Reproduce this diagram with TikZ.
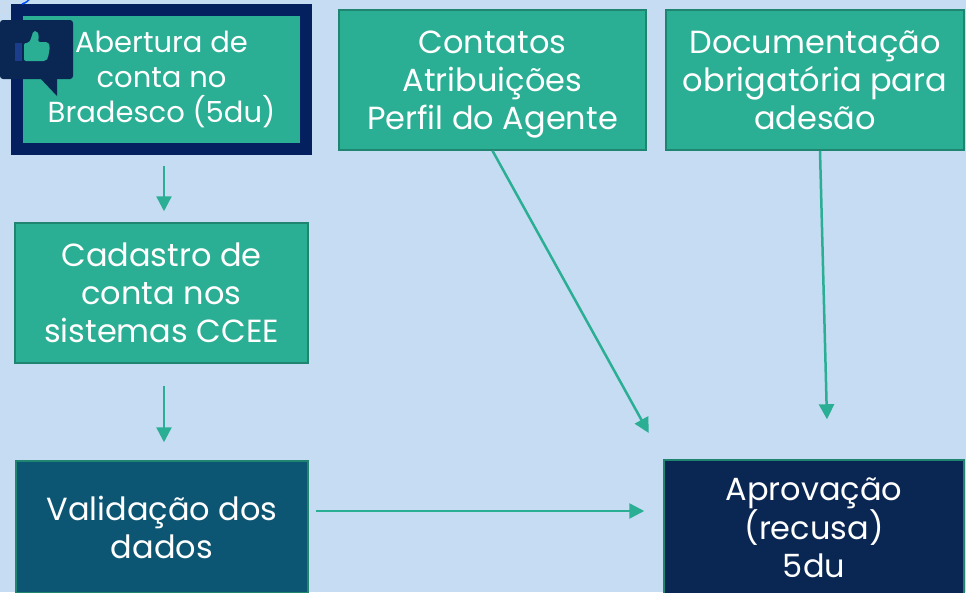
\documentclass[tikz,border=0pt]{standalone}
\usepackage{fontspec}
\setmainfont{Poppins}
\usetikzlibrary{arrows.meta}

\definecolor{fundo}{HTML}{C6DCF3}
\definecolor{verde}{HTML}{2AAE94}
\definecolor{verdeborda}{HTML}{1F8470}
\definecolor{marinho}{HTML}{05205E}
\definecolor{petroleo}{HTML}{0C5673}
\definecolor{escuro}{HTML}{0A2753}
\definecolor{punho}{HTML}{1B3D8C}

\tikzset{
  caixa/.style={rectangle, fill=verde, draw=verdeborda, line width=1.5pt,
    text=white, align=center, font=\fontsize{32}{38}\selectfont},
  seta/.style={draw=verde, line width=2.5pt, -{Triangle[length=15pt,width=15pt]}}
}

\begin{document}
\begin{tikzpicture}[x=1pt,y=-1pt]
    % Fundo
    \fill[fundo] (0,0) rectangle (966,592);
    \useasboundingbox (0,0) rectangle (966,592);

    % Caixas
    \node[fill=marinho, minimum width=301pt, minimum height=151pt] (abre) at (161.5,79.5) {};
    \node[caixa, draw=none, font=\fontsize{29}{35}\selectfont, minimum width=277pt,
        minimum height=127pt] (abertura) at (161.5,79.5)
        {Abertura de\\conta no\\Bradesco (5du)};
    \node[caixa, minimum width=307pt, minimum height=140pt] (contatos) at (492.5,80)
        {\mbox{}\\[-6pt]Contatos\\Atribuições\\Perfil do Agente};
    \node[caixa, minimum width=298pt, minimum height=140pt] (docs) at (815,80)
        {Documentação\\obrigatória para\\adesão};
    \node[caixa, minimum width=293pt, minimum height=140pt] (cadastro) at (161.5,293)
        {Cadastro de\\conta nos\\sistemas CCEE};
    \node[caixa, fill=petroleo, minimum width=292pt, minimum height=132pt] (valida) at (162,527)
        {Validação dos\\dados};
    \node[caixa, fill=escuro, minimum width=300pt, minimum height=136pt] (aprova) at (814,528)
        {Aprovação\\(recusa)\\5du};

    % Icone
    \fill[black!15] (4,3) circle (1.5pt) (4,11) circle (1.5pt);
    \draw[blue!70!cyan, line width=1.5pt] (22,4) to[bend right=20] (31,-3);
    \fill[escuro, rounded corners=3pt] (0,20) rectangle (73,79);
    \fill[escuro] (40,78) -- (57,78) -- (57,96) -- cycle;
    \fill[punho] (15,43) rectangle (22,61);
    \fill[verde, rounded corners=2pt] (24,61) -- (24,43) -- (29,43) -- (32,36) -- (33,31)
        -- (37,31) -- (39,35) -- (38,42) -- (48,42) -- (50,46) -- (49,52) -- (48,58)
        -- (46,61) -- cycle;

    % Setas
    \draw[seta, shorten <=11pt, shorten >=11pt] ([xshift=2.5pt]abre.south) -- ([xshift=2.5pt]cadastro.north);
    \draw[seta, shorten <=22pt, shorten >=18pt] ([xshift=2.5pt]cadastro.south) -- ([xshift=2pt]valida.north);
    \draw[seta, shorten <=7pt, shorten >=19pt] (valida.east |- 0,511) -- (aprova.west |- 0,511);
    \draw[seta, shorten >=30pt] (contatos.south) -- (aprova.north west);
    \draw[seta, shorten >=40pt] ([xshift=5pt]docs.south) -- ([xshift=14pt]aprova.north);
\end{tikzpicture}
\end{document}
